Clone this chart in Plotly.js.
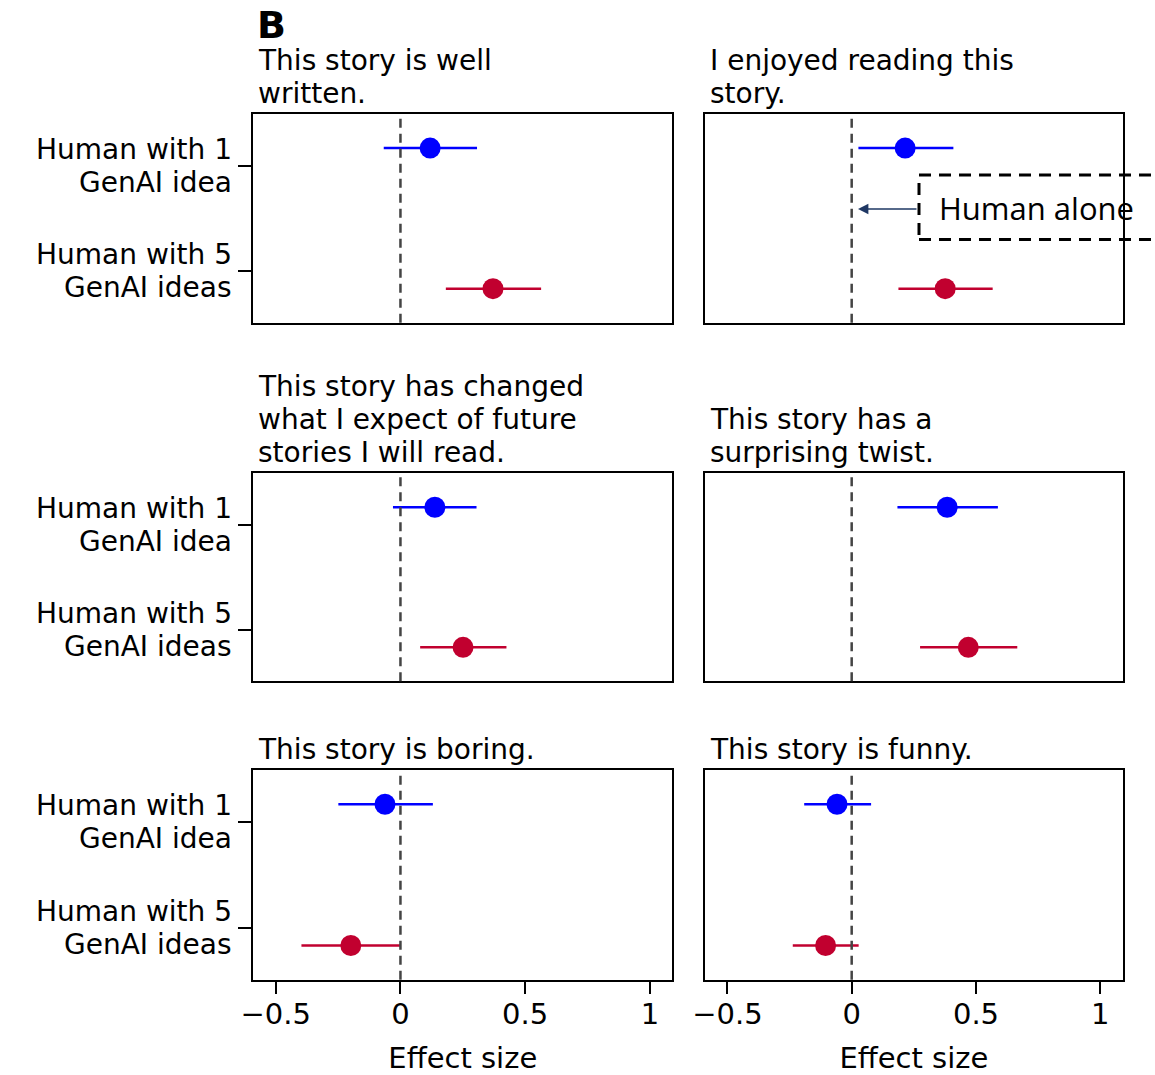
<!DOCTYPE html>
<html>
<head>
<meta charset="utf-8">
<script src="https://cdn.plot.ly/plotly-3.0.1.min.js"></script>
<style>html,body{margin:0;padding:0;background:#fff;}#chart{width:1155px;height:1075px;}</style>
</head>
<body>
<div id="chart"></div>
<script>
// ---- data ----
const panelTitles = [
  ["This story is well", "written."],
  ["I enjoyed reading this", "story."],
  ["This story has changed", "what I expect of future", "stories I will read."],
  ["This story has a", "surprising twist."],
  ["This story is boring."],
  ["This story is funny."]
];
const groupLabels = [["Human with 1", "GenAI idea"], ["Human with 5", "GenAI ideas"]];
const oneIdeaEst  = [0.119, 0.215, 0.138, 0.384, -0.062, -0.059];
const oneIdeaLo   = [-0.067, 0.027, -0.030, 0.184, -0.249, -0.191];
const oneIdeaHi   = [0.307, 0.409, 0.305, 0.588, 0.130, 0.078];
const fiveIdeaEst = [0.371, 0.376, 0.251, 0.469, -0.199, -0.105];
const fiveIdeaLo  = [0.182, 0.188, 0.079, 0.275, -0.397, -0.237];
const fiveIdeaHi  = [0.564, 0.567, 0.425, 0.666, 0.001, 0.028];
const xTickVals = [-0.5, 0, 0.5, 1];
const xTitle = "Effect size";
const panelLetter = "B";
const calloutText = "Human alone";

// ---- style / layout ----
const W = 1155, H = 1075;
const FONT = "DejaVu Sans";
const FS = 28;
const LINE = 33;
const BLUE = "#0000FF", RED = "#C1002F";
const colPx = [[253.3, 672.3], [705, 1122.7]];
const rowPx = [[114, 322.7], [473.3, 681.3], [770, 979.7]];
const xRange = [-0.59, 1.09];
const yRange = [2.49, 0.51];
const yOff = 0.167;

const data = [];
const layout = {
  width: W, height: H,
  margin: {l: 0, r: 0, t: 0, b: 0},
  paper_bgcolor: "#fff", plot_bgcolor: "#fff",
  showlegend: false,
  font: {family: FONT, size: FS, color: "#000"},
  shapes: [], annotations: []
};

for (let i = 0; i < 6; i++) {
  const r = Math.floor(i / 2), c = i % 2;
  const n = i === 0 ? "" : String(i + 1);
  const bottom = r === 2;
  layout["xaxis" + n] = {
    domain: [colPx[c][0] / W, colPx[c][1] / W],
    anchor: "y" + n,
    range: xRange,
    showgrid: false, zeroline: false,
    showline: true, mirror: true, linecolor: "#000", linewidth: 2,
    tickvals: xTickVals,
    ticks: bottom ? "outside" : "",
    ticklen: 12, tickwidth: 2, tickcolor: "#000",
    showticklabels: bottom,
    ticklabelstandoff: -5,
    tickfont: {family: FONT, size: 29, color: "#000"},
    title: bottom ? {text: xTitle, font: {family: FONT, size: 29, color: "#000"}, standoff: 34} : {text: ""},
    fixedrange: true
  };
  layout["yaxis" + n] = {
    domain: [1 - rowPx[r][1] / H, 1 - rowPx[r][0] / H],
    anchor: "x" + n,
    range: yRange,
    showgrid: false, zeroline: false,
    showline: true, mirror: true, linecolor: "#000", linewidth: 2,
    tickvals: [1, 2],
    ticks: c === 0 ? "outside" : "",
    ticklen: 13, tickwidth: 2, tickcolor: "#000",
    showticklabels: false,
    fixedrange: true
  };

  // reference line at zero
  layout.shapes.push({
    type: "line", xref: "x" + n, yref: "y" + n + " domain",
    x0: 0, x1: 0, y0: 0, y1: 1,
    line: {color: "#444", width: 2.5, dash: "9px,6px"}
  });

  // estimates
  const groups = [
    {est: oneIdeaEst[i], lo: oneIdeaLo[i], hi: oneIdeaHi[i], y: 1 - yOff, col: BLUE, name: groupLabels[0].join(" ")},
    {est: fiveIdeaEst[i], lo: fiveIdeaLo[i], hi: fiveIdeaHi[i], y: 2 + yOff, col: RED, name: groupLabels[1].join(" ")}
  ];
  groups.forEach(g => {
    data.push({
      type: "scatter", mode: "markers",
      x: [g.est], y: [g.y], name: g.name,
      xaxis: "x" + n, yaxis: "y" + n,
      marker: {color: g.col, size: 21},
      error_x: {type: "data", symmetric: false, array: [g.hi - g.est], arrayminus: [g.est - g.lo],
                color: g.col, thickness: 2.5, width: 0},
      hoverinfo: "skip", cliponaxis: false
    });
  });

  // panel title lines
  const lines = panelTitles[i];
  lines.forEach((t, k) => {
    layout.annotations.push({
      text: t, showarrow: false,
      xref: "paper", x: (colPx[c][0] + 4) / W, xanchor: "left",
      yref: "y" + n + " domain", y: 1, yanchor: "middle",
      yshift: 21 + LINE * (lines.length - 1 - k),
      borderpad: 0,
      font: {family: FONT, size: FS, color: "#000"}
    });
  });

  // group labels (left column only)
  if (c === 0) {
    groupLabels.forEach((lab, g) => {
      lab.forEach((t, k) => {
        layout.annotations.push({
          text: t, showarrow: false,
          xref: "paper", x: 233 / W, xanchor: "right",
          yref: "y" + n, y: g + 1, yanchor: "middle",
          yshift: k === 0 ? LINE / 2 : -LINE / 2,
          borderpad: 0,
          font: {family: FONT, size: FS, color: "#000"}
        });
      });
    });
  }
}

// panel letter
layout.annotations.push({
  text: "<b>" + panelLetter + "</b>", showarrow: false,
  xref: "paper", x: 256 / W, xanchor: "left",
  yref: "paper", y: 1 - 25 / H, yanchor: "middle",
  borderpad: 0,
  font: {family: FONT, size: 38, color: "#000"}
});

// callout: dashed box, text and arrow
layout.shapes.push({
  type: "rect", xref: "paper", yref: "paper",
  x0: 919 / W, x1: 1.05, y0: 1 - 239.5 / H, y1: 1 - 175 / H,
  line: {color: "#000", width: 3, dash: "12px,8px"}, fillcolor: "rgba(0,0,0,0)"
});
layout.annotations.push({
  text: calloutText, showarrow: false,
  xref: "paper", x: 937 / W, xanchor: "left",
  yref: "paper", y: 1 - 208 / H, yanchor: "middle",
  font: {family: "Open Sans", size: 31, color: "#000"}
});
layout.annotations.push({
  text: "", showarrow: true,
  xref: "paper", x: 858 / W, yref: "paper", y: 1 - 209 / H,
  ax: 60, ay: 0, axref: "pixel", ayref: "pixel",
  arrowcolor: "#1F3864", arrowwidth: 1.3, arrowhead: 2, arrowsize: 1.6, standoff: 0
});

Plotly.newPlot("chart", data, layout, {staticPlot: true, displayModeBar: false});
</script>
</body>
</html>
